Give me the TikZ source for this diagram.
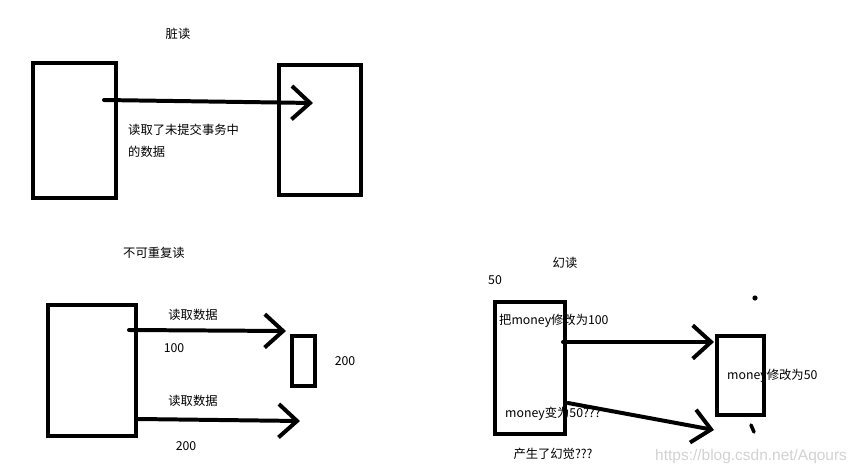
\documentclass[tikz,border=0pt]{standalone}
\usepackage{fontspec}
\setmainfont{Noto Sans CJK SC}
\newfontfamily\markfont{Liberation Sans}
\usepackage{tikz}
\usetikzlibrary{arrows.meta}
\tikzset{
  penbox/.style={draw=black,line width=3.4pt,inner sep=0pt},
  penarrow/.style={-{Straight Barb[length=5.5mm,width=10mm]},line width=3.4pt,line cap=round,black},
  lbl/.style={font=\fontsize{10.5}{12}\selectfont,inner sep=0pt},
  inlbl/.style={lbl,anchor=west},
}

\begin{document}
\begin{tikzpicture}[x=0.03cm,y=-0.03cm]
  \useasboundingbox (0,0) rectangle (859,474);
  % dirty read
  \node[lbl] (dirtyTitle) at (178,34) {脏读};
  \node[penbox,minimum width=2.49cm,minimum height=4.05cm] (dirtyA) at (74.5,130.5) {};
  \node[penbox,minimum width=2.46cm,minimum height=3.90cm] (dirtyB) at (320,130) {};
  \coordinate (dirtyFrom) at (104,100);
  \coordinate (dirtyTo) at (313,103);
  \draw[penarrow] (dirtyFrom) -- (dirtyTo);
  \node[lbl,anchor=north west,align=left,font=\fontsize{10.5}{18.7}\selectfont] (dirtyNote) at (128,124) {读取了未提交事务中\\的数据};
  % non-repeatable read
  \node[lbl] (nrTitle) at (154,253) {不可重复读};
  \node[penbox,minimum width=2.64cm,minimum height=3.93cm] (nrA) at (92,370.5) {};
  \node[penbox,minimum width=0.69cm,minimum height=1.50cm] (nrB) at (303.5,361) {};
  \coordinate (nrFromA) at (129,330);
  \coordinate (nrToA) at (286,331);
  \coordinate (nrFromB) at (138,419);
  \coordinate (nrToB) at (300,421);
  \draw[penarrow] (nrFromA) -- (nrToA);
  \draw[penarrow] (nrFromB) -- (nrToB);
  \node[lbl] (nrReadA) at (193,315) {读取数据};
  \node[lbl] (nrValA) at (174,348) {100};
  \node[lbl] (nrValB) at (345,361) {200};
  \node[lbl] (nrReadB) at (193,401) {读取数据};
  \node[lbl] (nrValC) at (186,446) {200};
  % phantom read
  \node[lbl] (phTitle) at (565,263) {幻读};
  \node[lbl] (phStart) at (495,280) {50};
  \node[penbox,minimum width=2.10cm,minimum height=3.96cm] (phA) at (530,368) {};
  \node[penbox,minimum width=1.41cm,minimum height=2.37cm] (phB) at (740.5,375.5) {};
  \coordinate (phFromA) at (563,342);
  \coordinate (phToA) at (714,342);
  \coordinate (phFromB) at (568,403);
  \coordinate (phToB) at (714,430);
  \draw[penarrow] (phFromA) -- (phToA);
  \draw[penarrow] (phFromB) -- (phToB);
  \node[inlbl] (phSet) at (499,321) {把money修改为100};
  \node[inlbl] (phOther) at (727,376) {money修改为50};
  \node[inlbl] (phSeen) at (505,414) {money变为50???};
  \node[lbl] (phNote) at (553,454) {产生了幻觉???};
  \fill (755,298) circle (2.6);
  \draw[line width=3pt,line cap=round] (751,425) -- (754,432);
  % watermark
  \node[anchor=west,inner sep=0pt,text=gray!35,font=\markfont\fontsize{13.2}{15}\selectfont] (mark) at (655,456) {https://blog.csdn.net/Aqours};
\end{tikzpicture}
\end{document}
